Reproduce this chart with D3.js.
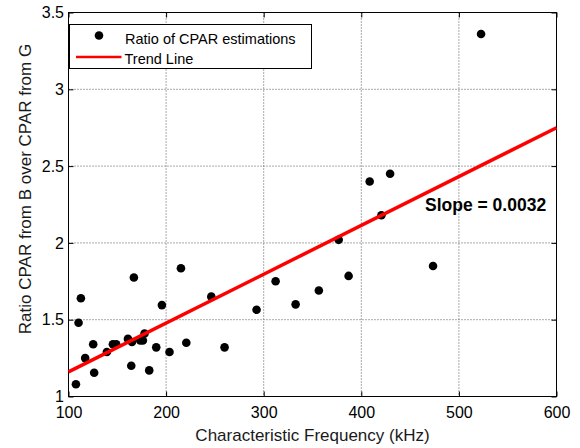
<!DOCTYPE html>
<html>
<head>
<meta charset="utf-8">
<script src="https://cdn.jsdelivr.net/npm/d3@7"></script>
<style>
body { margin: 0; background: #fff; }
text { font-family: "Liberation Sans", Arial, sans-serif; }
.grid line { stroke: #555; stroke-width: 1; stroke-dasharray: 1,2; }
.axis path { display: none; }
.axis line { stroke: #000; }
</style>
</head>
<body>
<div id="chart"></div>
<script>
// measured points (kHz, ratio)
var freq = [107.6, 110.3, 112.7, 117.1, 125.3, 126.3, 139.3, 145.5, 148.9, 160.9,
            164.3, 165.0, 167.0, 173.5, 176.2, 177.9, 182.7, 189.9, 195.7, 203.5,
            215.2, 220.7, 246.3, 259.9, 292.7, 312.2, 332.7, 356.5, 376.8, 387.0,
            408.6, 420.6, 429.5, 473.5, 522.7];
var ratio = [1.08, 1.48, 1.64, 1.25, 1.34, 1.155, 1.29, 1.34, 1.34, 1.375,
             1.20, 1.355, 1.775, 1.365, 1.365, 1.41, 1.17, 1.32, 1.595, 1.29,
             1.835, 1.35, 1.65, 1.32, 1.565, 1.75, 1.60, 1.69, 2.02, 1.785,
             2.40, 2.18, 2.45, 1.85, 3.36];
// trend line end points
var trendFreq = [100, 600];
var trendRatio = [1.16, 2.75];
var xTicks = [100, 200, 300, 400, 500, 600];
var yTicks = [1, 1.5, 2, 2.5, 3, 3.5];
var slopeLabel = "Slope = 0.0032";

var width = 580, height = 448;
var padL = 68.5, padR = 556.5, padT = 12.5, padB = 396.5;

var svg = d3.select("#chart").append("svg")
            .attr("width", width)
            .attr("height", height);

var x = d3.scaleLinear().domain([100, 600]).range([padL, padR]);
var y = d3.scaleLinear().domain([1, 3.5]).range([padB, padT]);

// dotted grid
var grid = svg.append("g").attr("class", "grid");
grid.selectAll(".gx").data(xTicks.slice(1, -1)).enter().append("line")
    .attr("x1", d => x(d)).attr("x2", d => x(d))
    .attr("y1", padT).attr("y2", padB);
grid.selectAll(".gy").data(yTicks.slice(1, -1)).enter().append("line")
    .attr("x1", padL).attr("x2", padR)
    .attr("y1", d => y(d)).attr("y2", d => y(d));

// axes, ticks pointing inward
svg.append("g").attr("class", "axis")
   .attr("transform", "translate(0," + padB + ")")
   .call(d3.axisBottom(x).tickValues(xTicks).tickSizeInner(-5).tickSizeOuter(0).tickPadding(10))
   .selectAll("text").style("font-size", "16px").attr("fill", "#000");
svg.append("g").attr("class", "axis")
   .attr("transform", "translate(0," + padT + ")")
   .call(d3.axisTop(x).tickValues(xTicks).tickSizeInner(-5).tickSizeOuter(0).tickFormat(""));
svg.append("g").attr("class", "axis")
   .attr("transform", "translate(" + padL + ",0)")
   .call(d3.axisLeft(y).tickValues(yTicks).tickSizeInner(-5).tickSizeOuter(0).tickPadding(4.5).tickFormat(d3.format("")))
   .selectAll("text").style("font-size", "16px").attr("fill", "#000");
svg.append("g").attr("class", "axis")
   .attr("transform", "translate(" + padR + ",0)")
   .call(d3.axisRight(y).tickValues(yTicks).tickSizeInner(-5).tickSizeOuter(0).tickFormat(""));

svg.append("rect")
   .attr("x", padL).attr("y", padT)
   .attr("width", padR - padL).attr("height", padB - padT)
   .attr("fill", "none").attr("stroke", "#000");

// data points
svg.selectAll(".dot").data(freq).enter().append("circle")
   .attr("cx", (d, i) => x(d))
   .attr("cy", (d, i) => y(ratio[i]))
   .attr("r", 4.3)
   .attr("fill", "#000");

// trend line
var line = d3.line().x((d, i) => x(d)).y((d, i) => y(trendRatio[i]));
svg.append("path")
   .attr("d", line(trendFreq))
   .attr("fill", "none")
   .attr("stroke", "#ff0000")
   .attr("stroke-width", 3.5);

svg.append("text")
   .attr("x", 425).attr("y", 211)
   .style("font-size", "17.5px").style("font-weight", "bold")
   .text(slopeLabel);

// axis titles
svg.append("text")
   .attr("x", (padL + padR) / 2).attr("y", 441)
   .attr("text-anchor", "middle")
   .style("font-size", "17px").attr("fill", "#1a1a1a")
   .text("Characteristic Frequency (kHz)");
svg.append("text")
   .attr("transform", "translate(31,189) rotate(-90)")
   .attr("text-anchor", "middle")
   .style("font-size", "17px").attr("fill", "#1a1a1a")
   .text("Ratio CPAR from B over CPAR from G");

// legend
var lg = svg.append("g");
lg.append("rect")
  .attr("x", 69.5).attr("y", 24.5).attr("width", 242).attr("height", 44)
  .attr("fill", "#fff").attr("stroke", "#000");
lg.append("circle").attr("cx", 99).attr("cy", 35.5).attr("r", 4.3).attr("fill", "#000");
lg.append("text").attr("x", 125).attr("y", 43.5)
  .style("font-size", "14.5px").text("Ratio of CPAR estimations");
lg.append("line").attr("x1", 76).attr("x2", 121.5).attr("y1", 57).attr("y2", 57)
  .attr("stroke", "#ff0000").attr("stroke-width", 2.5);
lg.append("text").attr("x", 124.5).attr("y", 64)
  .style("font-size", "14.5px").text("Trend Line");
</script>
</body>
</html>
